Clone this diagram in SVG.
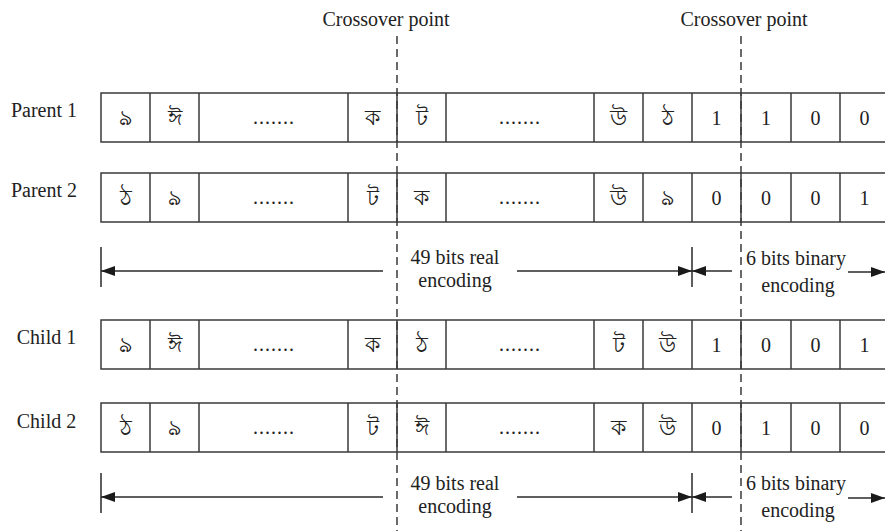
<svg xmlns="http://www.w3.org/2000/svg" width="885" height="531" viewBox="0 0 885 531">
<style>
text{font-family:"Liberation Serif","Noto Sans",serif;font-size:20px;fill:#222}
.c{text-anchor:middle}
.c text{font-size:22px}
.c text.n{font-size:20px}
.cell{fill:#fff;stroke:#3a3a3a;stroke-width:1.5}
.div{stroke:#3a3a3a;stroke-width:1.5}
.dash{stroke:#3a3a3a;stroke-width:1.5;stroke-dasharray:8 5}
.ln{stroke:#2a2a2a;stroke-width:1.5;fill:none}
.c text.dots{letter-spacing:1px;font-size:20px}
</style>
<defs>
<marker id="ah" viewBox="0 0 14 10" refX="14" refY="5" markerWidth="14" markerHeight="10" markerUnits="userSpaceOnUse" orient="auto">
<path d="M0,0 L14,5 L0,10 Z" fill="#1a1a1a"/>
</marker>
<g id="grid">
<rect class="cell" x="101" y="0" width="788" height="49"/>
<path class="div" d="M150,0V49M199,0V49M348,0V49M397,0V49M446,0V49M594,0V49M643,0V49M692,0V49M741,0V49M791,0V49M840,0V49"/>
</g>
</defs>

<g id="crossover-labels">
<text class="c" x="386" y="26">Crossover point</text>
<text class="c" x="744" y="26">Crossover point</text>
</g>

<g id="parent1">
<text class="c" x="44" y="117">Parent 1</text>
<use href="#grid" y="93"/>
<g class="c">
<text x="125.5" y="125">ঌ</text><text x="174.5" y="125">ঈ</text><text class="dots" x="274" y="124">.......</text><text x="372.5" y="125">ক</text>
<text x="421.5" y="125">ট</text><text class="dots" x="520" y="124">.......</text><text x="618.5" y="125">উ</text><text x="667.5" y="125">ঠ</text>
<text class="n" x="716.5" y="125">1</text><text class="n" x="766" y="125">1</text><text class="n" x="815.5" y="125">0</text><text class="n" x="864.5" y="125">0</text>
</g>
</g>

<g id="parent2">
<text class="c" x="44" y="197">Parent 2</text>
<use href="#grid" y="173"/>
<g class="c">
<text x="125.5" y="205">ঠ</text><text x="174.5" y="205">ঌ</text><text class="dots" x="274" y="204">.......</text><text x="372.5" y="205">ট</text>
<text x="421.5" y="205">ক</text><text class="dots" x="520" y="204">.......</text><text x="618.5" y="205">উ</text><text x="667.5" y="205">ঌ</text>
<text class="n" x="716.5" y="205">0</text><text class="n" x="766" y="205">0</text><text class="n" x="815.5" y="205">0</text><text class="n" x="864.5" y="205">1</text>
</g>
</g>

<g id="child1">
<text class="c" x="46.5" y="344">Child 1</text>
<use href="#grid" y="320"/>
<g class="c">
<text x="125.5" y="352">ঌ</text><text x="174.5" y="352">ঈ</text><text class="dots" x="274" y="351">.......</text><text x="372.5" y="352">ক</text>
<text x="421.5" y="352">ঠ</text><text class="dots" x="520" y="351">.......</text><text x="618.5" y="352">ট</text><text x="667.5" y="352">উ</text>
<text class="n" x="716.5" y="352">1</text><text class="n" x="766" y="352">0</text><text class="n" x="815.5" y="352">0</text><text class="n" x="864.5" y="352">1</text>
</g>
</g>

<g id="child2">
<text class="c" x="46.5" y="428">Child 2</text>
<use href="#grid" y="403"/>
<g class="c">
<text x="125.5" y="435">ঠ</text><text x="174.5" y="435">ঌ</text><text class="dots" x="274" y="434">.......</text><text x="372.5" y="435">ট</text>
<text x="421.5" y="435">ঈ</text><text class="dots" x="520" y="434">.......</text><text x="618.5" y="435">ক</text><text x="667.5" y="435">উ</text>
<text class="n" x="716.5" y="435">0</text><text class="n" x="766" y="435">1</text><text class="n" x="815.5" y="435">0</text><text class="n" x="864.5" y="435">0</text>
</g>
</g>

<g id="encoding-labels">
<text class="c" x="455" y="264">49 bits real</text>
<text class="c" x="455" y="287">encoding</text>
<text class="c" x="796" y="265">6 bits binary</text>
<text class="c" x="798" y="292">encoding</text>
<text class="c" x="455" y="490">49 bits real</text>
<text class="c" x="455" y="513">encoding</text>
<text class="c" x="796" y="490">6 bits binary</text>
<text class="c" x="798" y="517">encoding</text>
</g>

<g id="connectors">
<path class="dash" d="M397,36V531"/>
<path class="dash" d="M741,36V531"/>
<path class="ln" d="M101,247V287M692,247V287"/>
<path class="ln" d="M383,271H101" marker-end="url(#ah)"/>
<path class="ln" d="M517,271H692" marker-end="url(#ah)"/>
<path class="ln" d="M732,271H692" marker-end="url(#ah)"/>
<path class="ln" d="M848,272H885" marker-end="url(#ah)"/>
<path class="ln" d="M101,473V513M692,473V513"/>
<path class="ln" d="M383,497H101" marker-end="url(#ah)"/>
<path class="ln" d="M517,497H692" marker-end="url(#ah)"/>
<path class="ln" d="M732,497H692" marker-end="url(#ah)"/>
<path class="ln" d="M848,498H885" marker-end="url(#ah)"/>
</g>
</svg>
